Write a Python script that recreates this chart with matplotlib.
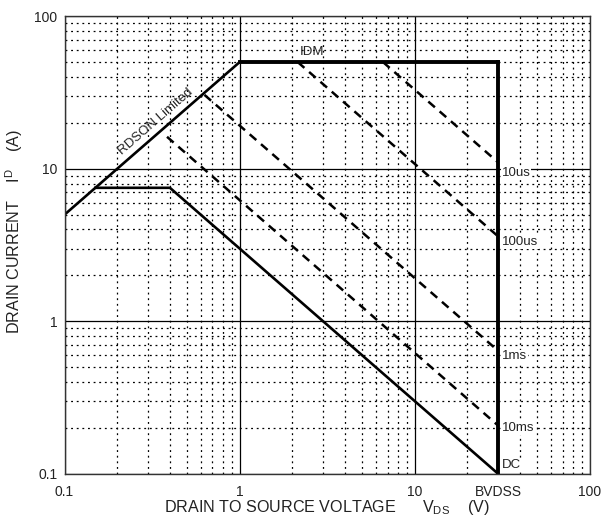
import numpy as np
import matplotlib.pyplot as plt
from matplotlib.ticker import LogLocator, NullFormatter, FixedLocator

plt.rcParams['font.family'] = ['Liberation Sans', 'DejaVu Sans']

# safe operating area boundaries (V, A)
v_rdson = [0.1, 1.0]
i_rdson = [5.0, 50.0]
v_idm = [1.0, 30.0]
i_idm = [50.0, 50.0]
v_bvdss = [30.0, 30.0]
i_bvdss = [50.0, 0.1]
v_dc = [0.15, 0.4, 30.0]
i_dc = [7.5, 7.5, 0.1]

# single pulse limits
pulse_names = ['10us', '100us', '1ms', '10ms']
pulse_v = [[6.6, 30.0], [2.15, 30.0], [0.63, 30.0], [0.385, 30.0]]
pulse_i = [[50.0, 11.0], [50.0, 3.6], [30.5, 0.64], [16.2, 0.207]]
pulse_label_i = [9.4, 3.3, 0.59, 0.2]
dc_label_i = 0.115

x_ticks = [0.1, 1, 10, 30, 100]
x_ticklabels = ['0.1', '1', '10', 'BVDSS', '100']
y_ticks = [0.1, 1, 10, 100]
y_ticklabels = ['0.1', '1', '10', '100']

txt = '#222222'

fig = plt.figure(figsize=(6.03, 5.23), dpi=100)
ax = fig.add_axes([0.107, 0.094, 0.871, 0.875])
ax.set_xscale('log')
ax.set_yscale('log')
ax.set_xlim(0.1, 100)
ax.set_ylim(0.1, 100)

ax.xaxis.set_minor_locator(LogLocator(base=10, subs=np.arange(2, 10)))
ax.yaxis.set_minor_locator(LogLocator(base=10, subs=np.arange(2, 10)))
ax.xaxis.set_minor_formatter(NullFormatter())
ax.yaxis.set_minor_formatter(NullFormatter())
ax.grid(which='major', color='black', linewidth=0.9, linestyle='-')
ax.grid(which='minor', color='black', linewidth=0.9, linestyle=(0, (1.5, 3)))
ax.set_axisbelow(True)

ax.set_xticks(x_ticks, x_ticklabels)
ax.set_yticks(y_ticks, y_ticklabels)
# BVDSS tick label only, no extra major grid line at 30 V
ax.xaxis.get_gridlines()[3].set_visible(False)
ax.tick_params(which='both', length=0, labelsize=10, labelcolor=txt)
ax.tick_params(axis='x', pad=8)
ax.tick_params(axis='y', pad=5)

for s in ax.spines.values():
    s.set_color('#333333')
    s.set_linewidth(1.0)

ax.plot(v_rdson, i_rdson, color='black', lw=1.9)
ax.plot(v_idm, i_idm, color='black', lw=2.8, solid_capstyle='projecting')
ax.plot(v_bvdss, i_bvdss, color='black', lw=2.8)
ax.plot(v_dc, i_dc, color='black', lw=1.9)

for v, i in zip(pulse_v, pulse_i):
    ax.plot(v, i, color='black', lw=1.8, dashes=(3.5, 2.5))

lbl_box = dict(facecolor='white', edgecolor='none', pad=0.5)
for name, yi in zip(pulse_names, pulse_label_i):
    ax.text(31.5, yi, name, fontsize=9.5, color=txt, ha='left', va='center', bbox=lbl_box)
ax.text(31.5, dc_label_i, 'DC', fontsize=9.5, color=txt, ha='left', va='center', bbox=lbl_box)
ax.text(2.6, 53, 'IDM', fontsize=9.5, color=txt, ha='center', va='bottom')

# rotate the RDSON label to follow the line on screen
p0 = ax.transData.transform((v_rdson[0], i_rdson[0]))
p1 = ax.transData.transform((v_rdson[1], i_rdson[1]))
ang = np.degrees(np.arctan2(p1[1] - p0[1], p1[0] - p0[0]))
ax.text(0.33, 20.5, 'RDSON Limited', fontsize=9.5, color=txt, rotation=ang,
        rotation_mode='anchor', ha='center', va='center')

ax.set_xlabel('DRAIN TO SOURCE VOLTAGE      $\\mathregular{V_{DS}}$    (V)',
              fontsize=11.6, color=txt)
ax.xaxis.set_label_coords(0.5, -0.053)
ax.set_ylabel('DRAIN CURRENT    $\\mathregular{I^{D}}$    (A)', fontsize=11.6, color=txt)
ax.yaxis.set_label_coords(-0.075, 0.53)

fig.savefig('out.png', dpi=100)
